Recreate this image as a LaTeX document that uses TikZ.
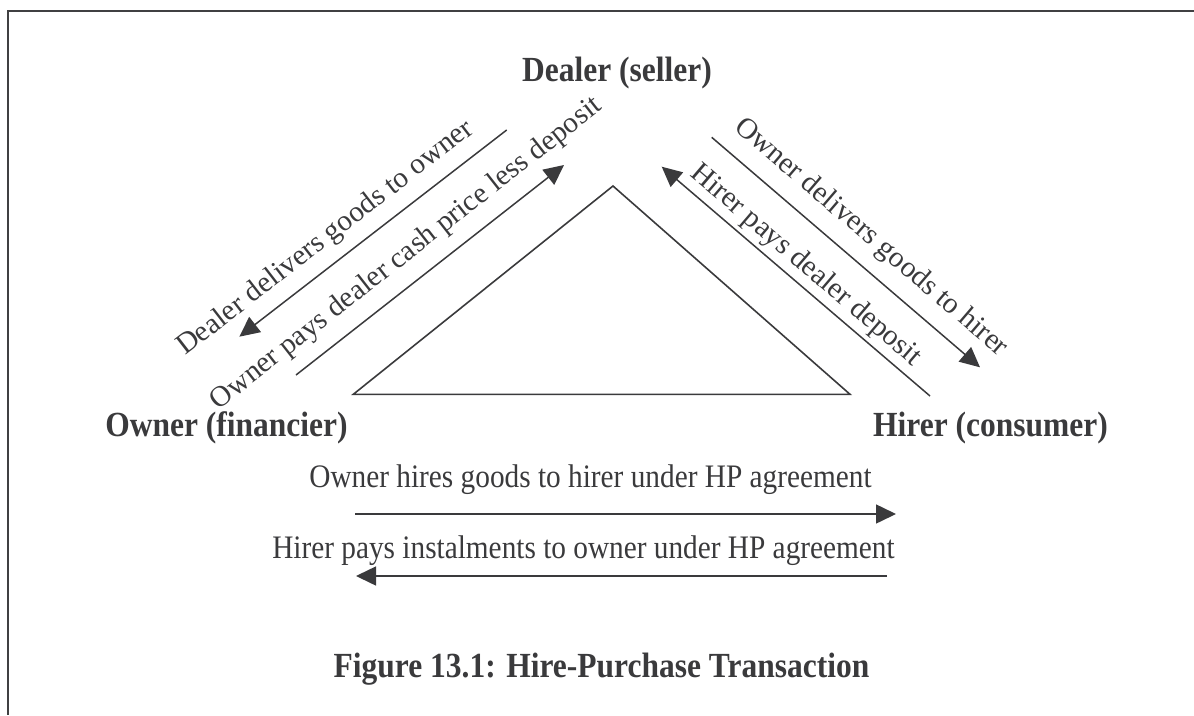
\documentclass[tikz,border=0pt]{standalone}
\usepackage{fontspec}
\setmainfont{Liberation Serif}
\usepackage{graphicx}
\usetikzlibrary{arrows.meta}
\definecolor{ink}{HTML}{3A3A3C}
\definecolor{framec}{HTML}{404042}
\begin{document}
\begin{tikzpicture}[x=1pt,y=-1pt,
  lbl/.style={font=\fontsize{29.3}{34}\selectfont, text=ink, inner sep=0pt, anchor=base},
  party/.style={font=\fontsize{31.5}{36}\selectfont\bfseries, text=ink, inner sep=0pt, anchor=base},
  flow/.style={draw=ink, line width=1.5pt, -{Triangle[length=20pt,width=19pt]}},
  edge/.style={draw=ink, line width=1.6pt, line join=miter},
  framestyle/.style={draw=framec, line width=2.6pt}
]
\useasboundingbox (0,0) rectangle (1194,715);
% frame
\coordinate (fr) at (1194,11);
\coordinate (fc) at (8,11);
\coordinate (fb) at (8,715);
\draw[framestyle] (fr) -- (fc) -- (fb);

% triangle
\coordinate (tl) at (353.3,394.3);
\coordinate (tr) at (850,394.3);
\coordinate (ta) at (613,186);
\draw[edge] (tl) -- (ta) -- (tr) -- cycle;

% parties
\node[party] (dealer) at (617,81) {\scalebox{1}[1.12]{Dealer (seller)}};
\node[party] (owner) at (226.5,436.5) {\scalebox{1}[1.12]{Owner (financier)}};
\node[party] (hirer) at (990.5,436.5) {\scalebox{1}[1.12]{Hirer (consumer)}};
\node[party] (caption) at (601.5,677.5) {\scalebox{1}[1.12]{Figure 13.1: Hire-Purchase Transaction}};

% left side arrows
\coordinate (a1s) at (506.7,130);
\coordinate (a1e) at (239.3,336.7);
\draw[flow] (a1s) -- (a1e);
\node[lbl, rotate=37.7] (t1) at (330,244) {Dealer delivers goods to owner};

\coordinate (a2s) at (296,375);
\coordinate (a2e) at (564,165);
\draw[flow] (a2s) -- (a2e);
\node[lbl, rotate=38.1] (t2) at (411,259.5) {Owner pays dealer cash price less deposit};

% right side arrows
\coordinate (a3s) at (711.7,137.3);
\coordinate (a3e) at (980,367.3);
\draw[flow] (a3s) -- (a3e);
\node[lbl, rotate=-40.6] (t3) at (866.5,243) {Owner delivers goods to hirer};

\coordinate (a4s) at (930,396);
\coordinate (a4e) at (661.7,166.7);
\draw[flow] (a4s) -- (a4e);
\node[lbl, rotate=-40.5] (t4) at (801,271) {Hirer pays dealer deposit};

% bottom arrows
\node[lbl] (t5) at (590.5,487) {\scalebox{1}[1.12]{Owner hires goods to hirer under HP agreement}};
\coordinate (a5s) at (355,514);
\coordinate (a5e) at (896,514);
\draw[flow] (a5s) -- (a5e);

\node[lbl] (t6) at (583.5,558) {\scalebox{1}[1.12]{Hirer pays instalments to owner under HP agreement}};
\coordinate (a6s) at (887,576);
\coordinate (a6e) at (356,576);
\draw[flow] (a6s) -- (a6e);
\end{tikzpicture}
\end{document}
